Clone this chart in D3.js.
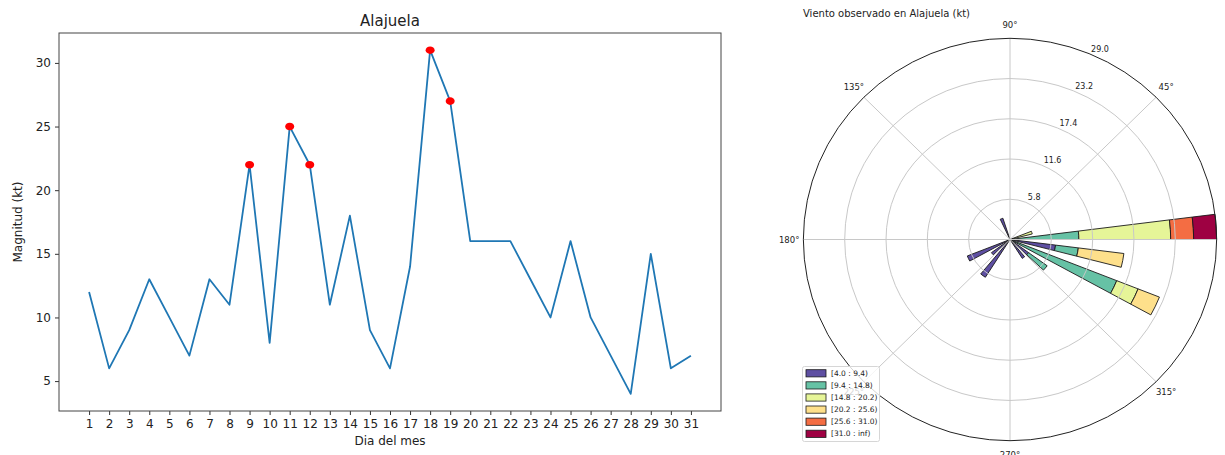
<!DOCTYPE html>
<html>
<head>
<meta charset="utf-8">
<script src="https://cdn.jsdelivr.net/npm/d3@7"></script>
<style>
  body { margin: 0; background: #fff; }
  svg { display: block; }
  text { font-family: "DejaVu Sans", sans-serif; fill: #222; }
</style>
</head>
<body>
<svg id="chart" width="1225" height="455"></svg>
<script>
// ---- Daily wind magnitude, Alajuela ----
const days = [1,2,3,4,5,6,7,8,9,10,11,12,13,14,15,16,17,18,19,20,21,22,23,24,25,26,27,28,29,30,31];
const magnitudes = [12,6,9,13,10,7,13,11,22,8,25,22,11,18,9,6,14,31,27,16,16,16,13,10,16,10,7,4,15,6,7];
const highlightDays = [9,11,12,18,19];
const yTicks = [5,10,15,20,25,30];

// ---- Wind rose: observations per direction sector and speed bin ----
const speedBins = ["[4.0 : 9.4)", "[9.4 : 14.8)", "[14.8 : 20.2)", "[20.2 : 25.6)", "[25.6 : 31.0)", "[31.0 : inf)"];
const directions = [3.6, 18, 349.2, 334.8, 320.4, 306, 111.6, 205.2, 234, 219.6];
const bin1 = [0, 0, 2, 0, 1, 1, 1, 2, 2, 1];
const bin2 = [3, 0, 1, 5, 1, 0, 0, 0, 0, 0];
const bin3 = [4, 1, 0, 1, 0, 0, 0, 0, 0, 0];
const bin4 = [0, 0, 2, 1, 0, 0, 0, 0, 0, 0];
const bin5 = [1, 0, 0, 0, 0, 0, 0, 0, 0, 0];
const bin6 = [1, 0, 0, 0, 0, 0, 0, 0, 0, 0];
const totalObs = 31;
const sectorWidth = 7.2;
const spokeAngles = [0, 45, 90, 135, 180, 225, 270, 315];
// the 0° label falls beyond the right edge of the figure
const angleLabels = [45, 90, 135, 180, 225, 270, 315];

const binPalette = ["#5e4fa2", "#66c2a5", "#e6f598", "#fee08b", "#f46d43", "#9e0142"];

const svg = d3.select("#chart");

// ================= Line chart =================
const L = { left: 59, right: 721, top: 33, bottom: 411 };
const x = d3.scaleLinear().domain([-0.5, 32.5]).range([L.left, L.right]);
const y = d3.scaleLinear().domain([2.65, 32.35]).range([L.bottom, L.top]);

const gL = svg.append("g");

const xAxis = gL.append("g")
  .attr("transform", `translate(0,${L.bottom})`)
  .call(d3.axisBottom(x).tickValues(days).tickFormat(d3.format("d")).tickSize(4).tickSizeOuter(0).tickPadding(4));
const yAxis = gL.append("g")
  .attr("transform", `translate(${L.left},0)`)
  .call(d3.axisLeft(y).tickValues(yTicks).tickSize(4).tickSizeOuter(0).tickPadding(4));
[xAxis, yAxis].forEach(a => {
  a.select(".domain").remove();
  a.selectAll(".tick line").attr("stroke", "#333").attr("stroke-width", 1);
  a.selectAll(".tick text").attr("font-size", 12).attr("fill", "#222")
    .style("font-family", '"DejaVu Sans", sans-serif');
});

// frame
gL.append("rect")
  .attr("x", L.left).attr("y", L.top)
  .attr("width", L.right - L.left).attr("height", L.bottom - L.top)
  .attr("fill", "none").attr("stroke", "#444").attr("stroke-width", 1);

const series = days.map((d, i) => ({ day: d, value: magnitudes[i] }));

gL.append("path")
  .datum(series)
  .attr("fill", "none")
  .attr("stroke", "#1f77b4")
  .attr("stroke-width", 1.8)
  .attr("stroke-linejoin", "round")
  .attr("d", d3.line().x(d => x(d.day)).y(d => y(d.value)));

gL.selectAll(".peak")
  .data(series.filter(d => highlightDays.includes(d.day)))
  .join("ellipse")
  .attr("class", "peak")
  .attr("cx", d => x(d.day)).attr("cy", d => y(d.value))
  .attr("rx", 4.5).attr("ry", 3.8)
  .attr("fill", "#ff0000");

gL.append("text")
  .attr("x", (L.left + L.right) / 2).attr("y", 26)
  .attr("text-anchor", "middle").attr("font-size", 15)
  .text("Alajuela");

gL.append("text")
  .attr("x", (L.left + L.right) / 2).attr("y", 445)
  .attr("text-anchor", "middle").attr("font-size", 12)
  .text("Dia del mes");

gL.append("text")
  .attr("transform", `translate(22,${(L.top + L.bottom) / 2}) rotate(-90)`)
  .attr("text-anchor", "middle").attr("font-size", 12)
  .text("Magnitud (kt)");

// ================= Wind rose =================
const cx = 1010, cy = 239.5, sx = 1.027;
const pct = arr => arr.map(c => c / totalObs * 100);
const bins = [bin1, bin2, bin3, bin4, bin5, bin6].map(pct);
const stackTotals = directions.map((_, j) => d3.sum(bins, b => b[j]));
const rMax = d3.max(stackTotals);
const r = d3.scaleLinear().domain([0, rMax]).range([0, 201.2]);
const rTicks = d3.range(1, 6).map(i => rMax * i / 5);
const rad = deg => deg * Math.PI / 180;

svg.append("text")
  .attr("x", 803).attr("y", 16.5).attr("font-size", 10)
  .text("Viento observado en Alajuela (kt)");

const gP = svg.append("g").attr("transform", `translate(${cx},${cy}) scale(${sx},1)`);

// stacked sector bars
const arc = d3.arc();
const segs = [];
directions.forEach((dir, j) => {
  let base = 0;
  bins.forEach((b, k) => {
    if (b[j] > 0) {
      segs.push({ dir, k, r0: base, r1: base + b[j] });
      base += b[j];
    }
  });
});
gP.selectAll(".seg")
  .data(segs)
  .join("path")
  .attr("class", "seg")
  .attr("d", d => arc({
    innerRadius: r(d.r0), outerRadius: r(d.r1),
    startAngle: rad(90 - d.dir - sectorWidth / 2),
    endAngle: rad(90 - d.dir + sectorWidth / 2)
  }))
  .attr("fill", d => binPalette[d.k])
  .attr("stroke", "#1a1a1a").attr("stroke-width", 0.9)
  .attr("vector-effect", "non-scaling-stroke");

// grid on top of bars
gP.selectAll(".ring")
  .data(rTicks.slice(0, -1))
  .join("circle")
  .attr("r", d => r(d))
  .attr("fill", "none").attr("stroke", "#c8c8c8").attr("stroke-width", 1)
  .attr("vector-effect", "non-scaling-stroke");
gP.selectAll(".spoke")
  .data(spokeAngles)
  .join("line")
  .attr("x1", 0).attr("y1", 0)
  .attr("x2", d => r(rMax) * Math.cos(rad(d)))
  .attr("y2", d => -r(rMax) * Math.sin(rad(d)))
  .attr("stroke", "#c8c8c8").attr("stroke-width", 1)
  .attr("vector-effect", "non-scaling-stroke");
gP.append("circle")
  .attr("r", r(rMax))
  .attr("fill", "none").attr("stroke", "#222").attr("stroke-width", 1)
  .attr("vector-effect", "non-scaling-stroke");

// radial tick labels
const rLabelAngle = rad(67.5);
svg.selectAll(".rlab")
  .data(rTicks)
  .join("text")
  .attr("x", d => cx + sx * r(d) * Math.cos(rLabelAngle) + 2)
  .attr("y", d => cy - r(d) * Math.sin(rLabelAngle) - 2)
  .attr("font-size", 8)
  .text(d => d3.format(".1f")(d));

// angle labels
svg.selectAll(".alab")
  .data(angleLabels)
  .join("text")
  .attr("x", d => cx + sx * 215 * Math.cos(rad(d)))
  .attr("y", d => cy - 215 * Math.sin(rad(d)))
  .attr("text-anchor", "middle").attr("dominant-baseline", "central")
  .attr("font-size", 8.5)
  .text(d => d + "°");

// legend (semi-transparent, drawn over the 225° label)
const lg = svg.append("g").attr("transform", "translate(802.5,366.5)");
lg.append("rect")
  .attr("width", 77).attr("height", 75).attr("rx", 2)
  .attr("fill", "#fff").attr("fill-opacity", 0.8)
  .attr("stroke", "#d6d6d6").attr("stroke-width", 1);
const items = lg.selectAll(".item")
  .data(speedBins)
  .join("g")
  .attr("transform", (d, i) => `translate(0,${6.8 + i * 12.1})`);
items.append("rect")
  .attr("x", 3.5).attr("y", -3.6).attr("width", 20).attr("height", 7.2)
  .attr("fill", (d, i) => binPalette[i])
  .attr("stroke", "#1a1a1a").attr("stroke-width", 0.8);
items.append("text")
  .attr("x", 28.5).attr("y", 0)
  .attr("dominant-baseline", "central")
  .attr("font-size", 7.5)
  .text(d => d);
</script>
</body>
</html>
